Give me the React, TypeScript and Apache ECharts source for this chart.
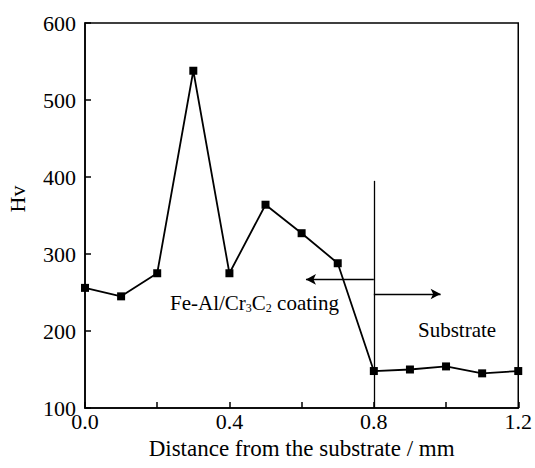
import React, { useEffect, useRef } from "react";
import * as echarts from "echarts";

// Microhardness profile across the coating / substrate interface
const distance = [0, 0.1, 0.2, 0.3, 0.4, 0.5, 0.6, 0.7, 0.8, 0.9, 1.0, 1.1, 1.2];
const hardness = [256, 245, 275, 538, 275, 364, 327, 288, 148, 150, 154, 145, 148];
const xTickLabels = ["0.0", "0.4", "0.8", "1.2"];

// Interface marker and the two region arrows (data coordinates)
const interfaceX = 0.8;
const interfaceTop = 395;
const coatingArrow = { y: 267, to: 0.612 };
const substrateArrow = { y: 248, to: 0.985 };

const FONT = "'Liberation Serif', 'DejaVu Serif', serif";

export default function App() {
  const ref = useRef<HTMLDivElement>(null);

  useEffect(() => {
    if (!ref.current) return;
    document.body.style.margin = "0";
    const chart = echarts.init(ref.current, null, { renderer: "svg" });
    chart.setOption({
      animation: false,
      backgroundColor: "#fff",
      textStyle: { fontFamily: FONT, color: "#000" },
      grid: {
        left: 85,
        right: 14,
        top: 23,
        bottom: 60,
        show: true,
        borderColor: "#000",
        borderWidth: 1.5,
      },
      xAxis: {
        type: "value",
        min: 0,
        max: 1.2,
        interval: 0.2,
        name: "Distance from the substrate / mm",
        nameLocation: "middle",
        nameGap: 29,
        nameTextStyle: { fontFamily: FONT, fontSize: 23, color: "#000" },
        axisLine: { lineStyle: { color: "#000", width: 1.5 } },
        axisTick: { inside: true, length: 6, lineStyle: { color: "#000", width: 1.5 } },
        axisLabel: {
          fontFamily: FONT,
          fontSize: 22,
          color: "#000",
          margin: 2,
          formatter: (v: number) => {
            const s = v.toFixed(1);
            return xTickLabels.includes(s) ? s : "";
          },
        },
        splitLine: { show: false },
      },
      yAxis: {
        type: "value",
        min: 100,
        max: 600,
        interval: 100,
        axisLine: { lineStyle: { color: "#000", width: 1.5 } },
        axisTick: { inside: true, length: 6, lineStyle: { color: "#000", width: 1.5 } },
        axisLabel: { fontFamily: FONT, fontSize: 22, color: "#000", margin: 9 },
        splitLine: { show: false },
      },
      series: [
        {
          type: "line",
          data: distance.map((d, i) => [d, hardness[i]]),
          symbol: "rect",
          symbolSize: 8,
          lineStyle: { color: "#000", width: 1.8 },
          itemStyle: { color: "#000" },
          markLine: {
            silent: true,
            symbol: ["none", "arrow"],
            symbolSize: [8, 10],
            label: { show: false },
            lineStyle: { color: "#000", width: 1.3, type: "solid" },
            data: [
              [
                { coord: [interfaceX, interfaceTop], symbol: "none" },
                { coord: [interfaceX, 100], symbol: "none" },
              ],
              [
                { coord: [interfaceX, coatingArrow.y], symbol: "none" },
                { coord: [coatingArrow.to, coatingArrow.y], symbol: "arrow" },
              ],
              [
                { coord: [interfaceX, substrateArrow.y], symbol: "none" },
                { coord: [substrateArrow.to, substrateArrow.y], symbol: "arrow" },
              ],
            ],
          },
        },
      ],
      graphic: [
        {
          type: "text",
          x: 17,
          y: 199,
          rotation: Math.PI / 2,
          style: {
            text: "Hv",
            fontFamily: FONT,
            fontSize: 22,
            fill: "#000",
            align: "center",
            verticalAlign: "middle",
          },
        },
        {
          type: "text",
          left: 170,
          top: 292,
          style: {
            text: "Fe-Al/Cr{sub|3}C{sub|2} coating",
            fontFamily: FONT,
            fontSize: 21,
            fill: "#000",
            rich: {
              sub: { fontFamily: FONT, fontSize: 12, padding: [10, 0, 0, 0] },
            },
          },
        },
        {
          type: "text",
          left: 418,
          top: 319,
          style: { text: "Substrate", fontFamily: FONT, fontSize: 21, fill: "#000" },
        },
      ],
    });
    return () => chart.dispose();
  }, []);

  return <div ref={ref} style={{ width: 535, height: 468 }} />;
}
